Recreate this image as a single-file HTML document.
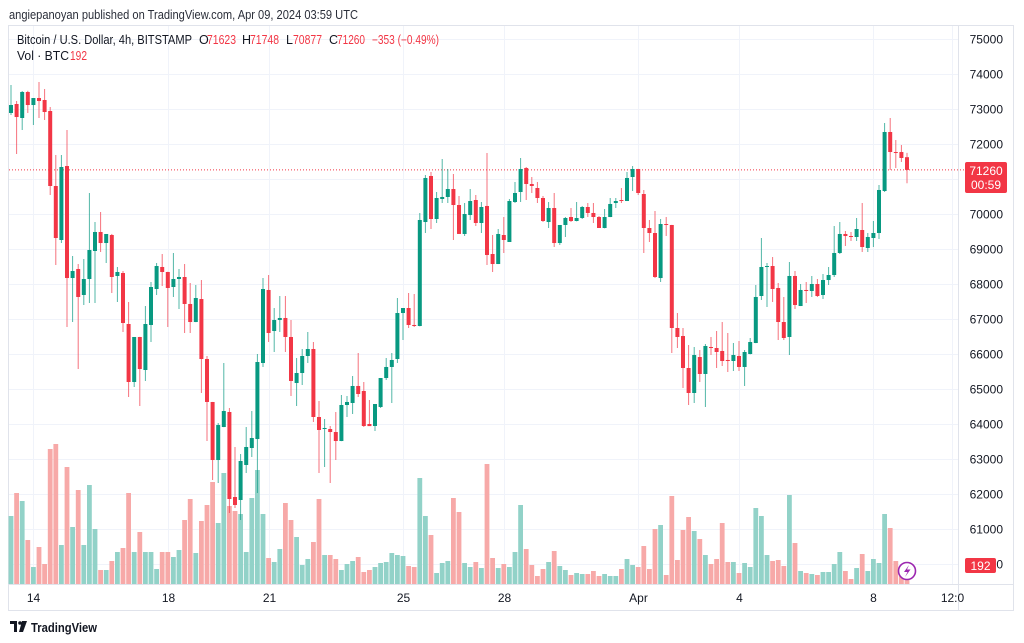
<!DOCTYPE html>
<html><head><meta charset="utf-8"><title>BTCUSD 4h chart</title>
<style>
html,body{margin:0;padding:0;background:#fff;}
svg{display:block;font-family:"Liberation Sans",Arial,sans-serif;}
</style></head>
<body>
<svg id="chart" width="1024" height="643" viewBox="0 0 1024 643" xmlns="http://www.w3.org/2000/svg">
  <rect x="0" y="0" width="1024" height="643" fill="#ffffff"/>
  <text x="9" y="19" font-size="12.5" fill="#2a2e39" textLength="349" lengthAdjust="spacingAndGlyphs">angiepanoyan published on TradingView.com, Apr 09, 2024 03:59 UTC</text>
  <rect x="8.5" y="25.5" width="1005" height="585" fill="none" stroke="#e0e3eb" stroke-width="1"/>
  <g id="grid"></g>
  <g id="vols"></g>
  <g id="candles"></g>
  <line x1="958.5" y1="25" x2="958.5" y2="610" stroke="#e0e3eb"/>
  <line x1="8" y1="584.5" x2="1014" y2="584.5" stroke="#e0e3eb"/>
  <g id="yaxis"></g>
  <g id="xaxis"></g>
  <g font-size="12.5">
    <text x="17" y="44" fill="#131722" textLength="175" lengthAdjust="spacingAndGlyphs">Bitcoin / U.S. Dollar, 4h, BITSTAMP</text>
    <text x="199" y="44" fill="#131722">O</text>
    <text x="207" y="44" fill="#f23645" textLength="29" lengthAdjust="spacingAndGlyphs">71623</text>
    <text x="242" y="44" fill="#131722">H</text>
    <text x="250" y="44" fill="#f23645" textLength="29" lengthAdjust="spacingAndGlyphs">71748</text>
    <text x="286" y="44" fill="#131722">L</text>
    <text x="293" y="44" fill="#f23645" textLength="29" lengthAdjust="spacingAndGlyphs">70877</text>
    <text x="329" y="44" fill="#131722">C</text>
    <text x="337" y="44" fill="#f23645" textLength="28" lengthAdjust="spacingAndGlyphs">71260</text>
    <text x="372" y="44" fill="#f23645" textLength="67" lengthAdjust="spacingAndGlyphs">−353 (−0.49%)</text>
    <text x="17" y="60" fill="#131722" textLength="52" lengthAdjust="spacingAndGlyphs">Vol · BTC</text>
    <text x="70" y="60" fill="#f23645" textLength="17" lengthAdjust="spacingAndGlyphs">192</text>
  </g>
  <g>
    <rect x="965" y="162" width="42" height="31" rx="2" fill="#f23645"/>
    <text x="986" y="175" font-size="12" fill="#fff" text-anchor="middle">71260</text>
    <text x="986" y="189" font-size="12" fill="#fff" text-anchor="middle">00:59</text>
  </g>
  <g>
    <rect x="965" y="558" width="31" height="15" rx="2" fill="#f23645"/>
    <text x="980.5" y="570" font-size="12" fill="#fff" text-anchor="middle">192</text>
  </g>
  <g>
    <circle cx="907" cy="571" r="8.5" fill="#fff" stroke="#9c27b0" stroke-width="1.6"/>
    <path d="M909 565 L904 572 L907.5 572 L905 577 L910.5 569.5 L907 569.5 Z" fill="#9c27b0"/>
  </g>
  <g>
    <path d="M10 621 h7 v11 h-3 v-8 h-4 z" fill="#131722"/>
    <circle cx="20" cy="623" r="1.8" fill="#131722"/>
    <path d="M22 621 h5 l-4 11 h-4 z" fill="#131722"/>
    <text x="31" y="632" font-size="12.5" font-weight="bold" fill="#131722" textLength="66" lengthAdjust="spacingAndGlyphs">TradingView</text>
  </g>
</svg>
<script>
const opens=[72886,73143,72743,73486,73114,73314,73257,72943,70800,69257,71371,68171,68429,67686,68143,68943,69486,69171,69400,68229,68314,66857,65200,66486,65543,66829,67857,68486,68343,67914,68143,68200,67429,66914,67571,65857,64629,62971,63914,64343,61914,61829,62829,63314,63571,65743,67829,66657,66971,67029,66486,65171,65457,65943,66143,64200,63857,63857,63771,63514,64543,64600,65086,64943,64000,63943,64486,65314,65629,65857,67171,67314,66829,66800,69771,71086,69857,70429,70486,70714,70257,69429,69971,70400,69743,70229,68857,68571,69400,69200,70343,70629,71314,70857,70743,70457,69771,70171,69171,69686,69914,69800,69886,70200,70029,69914,69600,69914,70314,70400,70371,71057,71286,70571,69600,69457,68171,69714,69686,66743,66514,65600,64886,65914,65429,66200,66171,66086,65829,65800,65943,65629,66000,66314,67657,68486,68514,67886,66914,66486,68229,67371,67829,67800,68000,67686,68114,68257,68886,69429,69371,69343,69543,69029,69314,69457,70657,72343,71771,71771,71623];
const highs=[73686,73229,73514,73520,73314,73771,73571,73057,71686,71686,72400,68800,68571,68714,70600,69771,70057,69429,69430,68486,68371,67486,66486,66490,67371,68057,68600,68857,68350,68886,68429,68571,68029,67971,68114,65943,64630,64029,65743,64457,63343,63143,63914,64371,66000,68171,68257,67314,67657,67657,66971,65886,66143,66629,66343,64657,64143,63943,64343,64829,64800,65371,66029,65200,64686,64571,65314,65886,66029,67600,67314,67743,67714,70029,71114,71200,70629,71571,71286,71143,70514,70314,70714,70543,70343,71743,69400,69571,69914,70429,70914,71600,71343,71057,70914,70514,70343,70600,69686,69914,70171,70343,70229,70314,70314,69943,70143,70457,70457,70743,71200,71371,71290,70686,69829,70086,69857,69914,69690,67171,66743,66257,66200,66114,66286,66486,66657,66914,66600,66314,66371,66114,66457,67971,69314,68600,68771,68029,67629,68629,68371,68000,68057,68229,68143,68286,68486,69657,69771,69514,69486,69886,70314,69457,69800,70829,72600,72743,72114,71971,71748];
const lows=[72829,71714,72400,72886,72543,72743,72686,70543,68543,69171,66771,66914,65571,67400,67457,67457,68914,68600,67743,67486,66629,64771,65057,64514,65229,66343,67686,67943,66771,67629,67286,66600,66600,66910,64886,63514,62400,62314,63910,61457,61600,61257,62600,63057,62029,65629,66343,66057,66629,66057,64800,64514,65114,65743,64057,62600,62771,62314,62971,63510,64200,64286,64771,63914,63943,63800,64457,65257,64600,65743,66400,66743,66771,66790,69457,69571,69743,70314,70314,69257,69429,69371,69829,69657,69457,68543,68343,68570,68886,69200,70314,70343,70400,70600,70314,69771,69600,69057,69114,69343,69771,69790,69857,69914,69743,69600,69590,69910,70171,70314,70370,70657,70543,68886,69200,68171,68057,69371,66029,66171,65029,64543,64600,65200,64486,65971,65600,65657,65486,65514,65514,65086,65990,66310,67543,67343,67486,66400,66400,65971,67286,67370,67457,67629,67629,67571,67971,68200,68857,69086,69229,69229,68914,68914,69057,69286,70629,71257,71314,71486,70877];
const closes=[73114,72771,73486,73114,73314,73229,72914,70800,69314,71343,68171,68371,67629,68143,68971,69486,69171,69429,68200,68343,66886,65200,66486,65571,66857,67914,68514,68343,67886,68143,68200,67429,66914,67600,65857,64629,62971,63971,64371,61857,61686,62943,63343,63600,65771,67857,66600,66971,67029,66486,65229,65457,65943,66143,64200,63829,63886,63771,63514,64543,64629,65086,64857,63943,63940,64571,65314,65629,65829,67171,67314,66829,66800,69829,71029,69857,70457,70486,70714,70257,69430,70000,70371,69743,70200,68829,68571,69429,69257,70371,70600,71286,70857,70800,70457,69800,70171,69171,69686,69886,69800,69886,70200,70029,69914,69600,69914,70286,70371,70371,71029,71286,70600,69600,69457,68200,69714,69686,66743,66486,65600,64886,65971,65429,66229,66171,66057,65800,65800,65971,65629,66057,66343,67629,68486,68514,67857,66914,66457,68229,67400,67829,67800,68000,67657,68114,68257,68886,69429,69371,69343,69571,69057,69343,69457,70686,72343,71771,71743,71600,71260];
const volumes=[68,91,83,44,17,37,20,135,140,39,117,57,94,39,99,55,14,14,23,32,36,91,32,52,32,32,15,32,32,27,34,64,85,31,63,79,102,61,111,78,73,70,32,86,114,70,26,22,35,81,64,47,19,25,42,85,29,29,25,14,20,23,27,12,14,17,21,22,31,29,28,18,17,106,68,49,11,21,23,86,72,21,17,22,16,120,26,16,20,17,32,79,35,19,8,15,22,33,18,14,9,11,10,10,13,8,10,8,8,15,25,19,17,38,15,55,59,9,88,24,54,67,53,45,29,20,25,61,22,22,11,21,17,76,68,29,23,24,18,89,41,13,11,10,9,12,12,20,32,13,5,16,30,13,25,21,70,56,23,8,4];
const priceTicks=[75000,74000,73000,72000,71000,70000,69000,68000,67000,66000,65000,64000,63000,62000,61000,60000];
const timeTickLabels=["14","18","21","25","28","Apr","4","8","12:0"];
const timeTickIndex=[4,28,46,70,88,112,130,154,168];
const lastPrice=71260;

const NS="http://www.w3.org/2000/svg";
function xOf(i){return 11+i*5.6;}
function yOf(p){return 39+(75000-p)*0.035;}
function vOf(v){return 584-v*1.0;}
function mk(tag,attrs,parent){const e=document.createElementNS(NS,tag);for(const k in attrs)e.setAttribute(k,attrs[k]);parent.appendChild(e);return e;}

const grid=document.getElementById('grid');
const yaxis=document.getElementById('yaxis');
const xaxis=document.getElementById('xaxis');
priceTicks.forEach(p=>{
  const y=Math.round(yOf(p))+0.5;
  const gl=mk('line',{x1:9,x2:958,y1:y,y2:y,stroke:'#f0f3fa','stroke-width':1},grid);
  
  
  const t=mk('text',{x:1003,y:y+4,'font-size':12,fill:'#131722','text-anchor':'end'},yaxis);
  t.textContent=String(p);
  
  
});
timeTickIndex.forEach((idx,k)=>{
  const x=Math.round(xOf(idx))+0.5;
  if(x<958){
    const gl=mk('line',{x1:x,x2:x,y1:26,y2:584,stroke:'#f0f3fa','stroke-width':1},grid);
    
    
  }
  const t=mk('text',{x:x,y:602,'font-size':12,fill:'#131722','text-anchor':'middle'},xaxis);
  t.textContent=timeTickLabels[k];
  
  
});
const pl=mk('line',{x1:9,x2:965,y1:yOf(lastPrice),y2:yOf(lastPrice),stroke:'#f23645','stroke-width':1,'stroke-dasharray':'1 2'},grid);



const vols=document.getElementById('vols');
const cg=document.getElementById('candles');
for(let i=0;i<opens.length;i++){
  const up=closes[i]>=opens[i];
  const x=xOf(i);
  const vy=vOf(volumes[i]);
  const vb=mk('rect',{x:x-2.4,y:vy,width:4.8,height:584-vy,fill:up?'#92d2c8':'#f7a9a8'},vols);
  
  
  const col=up?'#089981':'#f23645';
  const wick=mk('line',{x1:x,x2:x,y1:yOf(highs[i]),y2:yOf(lows[i]),stroke:col,'stroke-width':1,'stroke-opacity':0.7},cg);
  
  
  const top=yOf(Math.max(opens[i],closes[i]));
  const bot=yOf(Math.min(opens[i],closes[i]));
  const body=mk('rect',{x:x-2,y:top,width:4,height:Math.max(1,bot-top),fill:col},cg);
  
  
}
</script>
</body></html>
